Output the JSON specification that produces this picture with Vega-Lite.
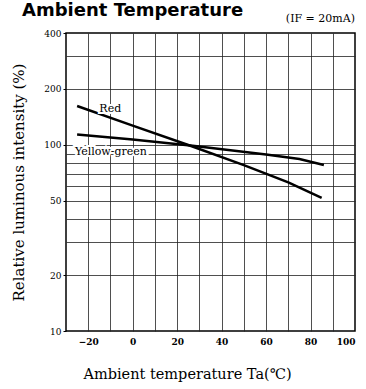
{
  "$schema": "https://vega.github.io/schema/vega-lite/v6.json",
  "width": 289,
  "height": 298,
  "autosize": {"type": "none"},
  "padding": {"left": 66, "top": 33, "right": 11, "bottom": 58},
  "background": "white",
  "title": {
    "text": "Ambient Temperature",
    "anchor": "start",
    "frame": "group",
    "baseline": "alphabetic",
    "dx": -44,
    "dy": 21,
    "offset": 0,
    "font": "DejaVu Sans",
    "fontSize": 18,
    "fontWeight": "bold",
    "color": "black"
  },
  "config": {
    "view": {"stroke": "black", "strokeWidth": 1.5},
    "axis": {
      "labelFont": "DejaVu Serif",
      "labelFontSize": 9,
      "labelColor": "black",
      "titleFont": "DejaVu Serif",
      "titleFontWeight": "normal",
      "titleColor": "black",
      "domain": false
    }
  },
  "data": {
    "values": [
      {"series": "Red", "x": -25, "y": 162},
      {"series": "Red", "x": 0, "y": 127},
      {"series": "Red", "x": 25, "y": 100},
      {"series": "Red", "x": 50, "y": 78},
      {"series": "Red", "x": 70, "y": 63},
      {"series": "Red", "x": 85, "y": 52},
      {"series": "Yellow-green", "x": -25, "y": 114},
      {"series": "Yellow-green", "x": 0, "y": 107},
      {"series": "Yellow-green", "x": 27, "y": 99},
      {"series": "Yellow-green", "x": 60, "y": 89},
      {"series": "Yellow-green", "x": 75, "y": 84},
      {"series": "Yellow-green", "x": 86, "y": 78}
    ]
  },
  "resolve": {"axis": {"x": "independent", "y": "independent"}},
  "layer": [
    {
      "mark": {"type": "line", "opacity": 0},
      "encoding": {
        "x": {
          "field": "x", "type": "quantitative",
          "scale": {"domain": [-30, 100], "nice": false, "zero": false},
          "axis": {"orient": "bottom", "values": [-20, -10, 0, 10, 20, 30, 40, 50, 60, 70, 80, 90], "grid": true, "gridColor": "#222", "gridWidth": 0.8, "gridOpacity": 1, "labels": false, "ticks": false, "title": null}
        },
        "y": {
          "field": "y", "type": "quantitative",
          "scale": {"type": "log", "domain": [10, 400], "nice": false},
          "axis": {"orient": "left", "values": [20, 30, 40, 50, 60, 70, 80, 90, 100, 200, 300], "grid": true, "gridColor": "#222", "gridWidth": 0.8, "gridOpacity": 1, "labels": false, "ticks": false, "title": null}
        },
        "detail": {"field": "series"}
      }
    },
    {
      "mark": {"type": "line", "color": "black", "strokeWidth": 2.5},
      "encoding": {
        "x": {
          "field": "x", "type": "quantitative",
          "axis": {"orient": "bottom", "values": [-20, 0, 20, 40, 60, 80, 100], "grid": false, "ticks": false, "labelPadding": 6, "labelFontWeight": "bold", "title": "Ambient temperature Ta(℃)", "titleFontSize": 14.5, "titleX": 121, "titleY": 47, "titleBaseline": "alphabetic"}
        },
        "y": {
          "field": "y", "type": "quantitative",
          "axis": {"orient": "left", "values": [10, 20, 50, 100, 200, 400], "grid": false, "ticks": true, "tickSize": 3, "tickColor": "black", "labelPadding": 2, "title": "Relative luminous intensity (%)", "titleFontSize": 15, "titlePadding": 17}
        },
        "detail": {"field": "series"}
      }
    },
    {
      "data": {"values": [
        {"label": "Red", "x": -15, "y": 150},
        {"label": "Yellow-green", "x": -26, "y": 88}
      ]},
      "mark": {"type": "text", "align": "left", "baseline": "alphabetic", "font": "DejaVu Serif", "fontSize": 11, "fontWeight": "normal", "stroke": "white", "strokeWidth": 4, "fill": "white"},
      "encoding": {
        "x": {"field": "x", "type": "quantitative", "axis": null},
        "y": {"field": "y", "type": "quantitative", "axis": null},
        "text": {"field": "label"}
      }
    },
    {
      "data": {"values": [
        {"label": "Red", "x": -15, "y": 150},
        {"label": "Yellow-green", "x": -26, "y": 88}
      ]},
      "mark": {"type": "text", "align": "left", "baseline": "alphabetic", "font": "DejaVu Serif", "fontSize": 11, "fontWeight": "normal", "color": "black"},
      "encoding": {
        "x": {"field": "x", "type": "quantitative", "axis": null},
        "y": {"field": "y", "type": "quantitative", "axis": null},
        "text": {"field": "label"}
      }
    },
    {
      "data": {"values": [{"note": "(IF = 20mA)"}]},
      "mark": {"type": "text", "align": "right", "baseline": "alphabetic", "dy": -11, "font": "DejaVu Serif", "fontSize": 11, "fontWeight": "normal", "color": "black"},
      "encoding": {
        "x": {"datum": 100, "type": "quantitative", "axis": null},
        "y": {"datum": 400, "type": "quantitative", "axis": null},
        "text": {"field": "note"}
      }
    }
  ]
}
